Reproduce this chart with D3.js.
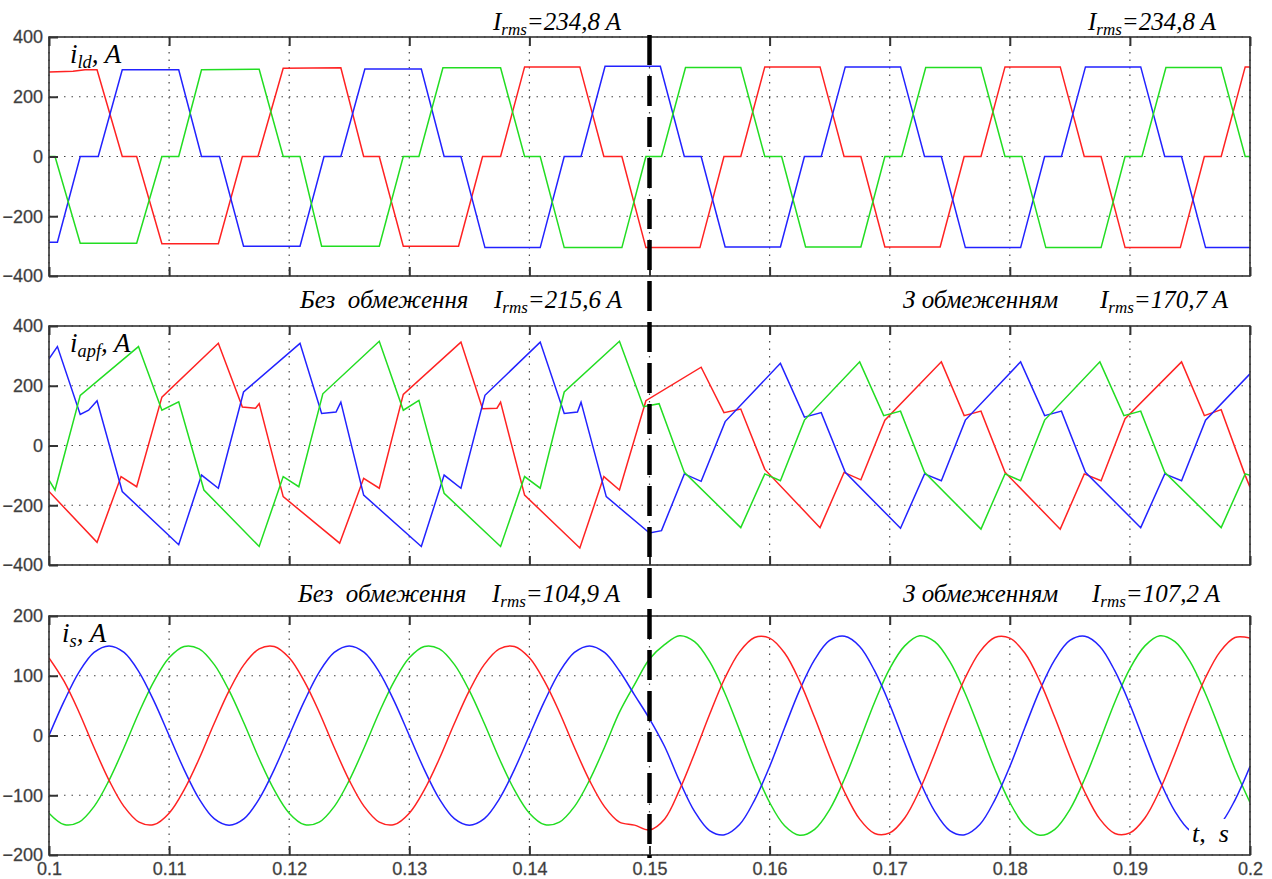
<!DOCTYPE html>
<html lang="en">
<head>
<meta charset="utf-8">
<title>i_ld, i_apf, i_s</title>
<script src="https://cdnjs.cloudflare.com/ajax/libs/d3/7.8.5/d3.min.js"></script>
<style>
  body { margin:0; background:#fff; }
  .tick text { font-family: Arial, "Liberation Sans", sans-serif; font-size:18px; fill:#3a3a3a; stroke:#555; stroke-width:0.3px; }
  .note { font-family: "Times New Roman", "Liberation Serif", serif; font-style:italic; fill:#000; }
</style>
</head>
<body>
<div id="chart"></div>
<script>
// time is in ms (100 = 0.1 s)
var xTicks = [100, 110, 120, 130, 140, 150, 160, 170, 180, 190, 200];
var xTickLabels = ["0.1", "0.11", "0.12", "0.13", "0.14", "0.15", "0.16", "0.17", "0.18", "0.19", "0.2"];
var ildTicks = [-400, -200, 0, 200, 400];
var apfTicks = [-400, -200, 0, 200, 400];
var isTicks = [-200, -100, 0, 100, 200];

// load current, breakpoints [ms, A]
var ildRed = [[100,283],[102,285],[103,290],[104.0,290],[106.1,0],[107.3,0],[109.4,-292],[114.1,-292],[116.1,0],[117.4,0],[119.5,295],[124.3,297],[126.2,0],[127.5,0],[129.5,-300],[134.1,-300],[136.1,0],[137.6,0],[139.6,300],[144.2,300],[146.2,0],[147.7,0],[149.7,-305],[154.2,-305],[156.2,0],[157.6,0],[159.6,300],[164.2,300],[166.2,0],[167.6,0],[169.6,-303],[174.2,-303],[176.2,0],[177.6,0],[179.6,300],[184.2,300],[186.2,0],[187.6,0],[189.6,-305],[194.2,-305],[196.2,0],[197.6,0],[199.6,300],[200,300]];
var ildGreen = [[100,0],[100.5,0],[102.6,-290],[107.3,-290],[109.4,0],[110.8,0],[112.7,290],[117.5,292],[119.5,0],[120.9,0],[122.7,-300],[127.5,-300],[129.5,0],[130.8,0],[132.8,297],[137.6,297],[139.6,0],[140.9,0],[142.9,-305],[147.7,-305],[149.7,0],[151,0],[153,298],[157.6,298],[159.6,0],[161,0],[163,-303],[167.6,-303],[169.6,0],[171,0],[173,298],[177.6,298],[179.6,0],[181,0],[183,-305],[187.6,-305],[189.6,0],[191,0],[193,298],[197.6,298],[199.6,0],[200,0]];
var ildBlue = [[100,-287],[100.7,-287],[102.6,0],[104.1,0],[106.1,290],[110.8,290],[112.7,0],[114.2,0],[116.2,-300],[120.9,-300],[122.9,0],[124.3,0],[126.3,293],[131.0,293],[132.9,0],[134.3,0],[136.3,-305],[140.9,-305],[142.9,0],[144.3,0],[146.3,302],[150.9,302],[152.9,0],[154.3,0],[156.3,-303],[160.9,-303],[162.9,0],[164.3,0],[166.3,300],[170.9,300],[172.9,0],[174.3,0],[176.3,-305],[180.9,-305],[182.9,0],[184.3,0],[186.3,300],[190.9,300],[192.9,0],[194.3,0],[196.3,-305],[200,-305]];

// active filter current, breakpoints [ms, A]
var apfRed = [[100,-154],[104.0,-324],[106.0,-104],[107.3,-138],[109.4,162],[114.1,342],[116.1,129],[117.2,125],[117.5,140],[119.5,-171],[124.2,-327],[126.2,-110],[127.5,-143],[129.5,171],[134.3,346],[136.1,123],[137.3,125],[137.6,145],[139.6,-166],[144.2,-343],[146.2,-104],[147.5,-149],[149.7,150],[154.3,262],[156.2,110],[157.6,122],[159.6,-80],[164.2,-275],[166.2,-90],[167.6,-115],[169.6,85],[174.3,280],[176.2,100],[177.6,115],[179.6,-90],[184.2,-280],[186.2,-95],[187.6,-118],[189.6,90],[194.3,280],[196.2,100],[197.6,120],[199.6,-100],[200,-140]];
var apfGreen = [[100,-116],[100.5,-149],[102.6,168],[107.45,331],[109.4,118],[110.8,146],[112.9,-149],[117.5,-338],[119.5,-104],[120.8,-138],[122.8,173],[127.5,349],[129.5,118],[130.8,151],[132.9,-160],[137.6,-338],[139.6,-104],[140.9,-143],[142.9,179],[147.5,349],[149.5,130],[150.8,140],[152.9,-90],[157.6,-275],[159.6,-95],[160.9,-118],[162.9,85],[167.5,280],[169.5,100],[170.9,115],[172.9,-90],[177.6,-280],[179.6,-95],[180.9,-118],[182.9,85],[187.5,280],[189.5,100],[190.9,115],[192.9,-90],[197.6,-275],[199.6,-95],[200,-100]];
var apfBlue = [[100,290],[100.7,331],[102.6,104],[103.3,118],[104.0,150],[106.1,-154],[110.8,-332],[112.7,-99],[114.1,-143],[116.2,179],[120.9,342],[122.7,107],[123.9,112],[124.3,145],[126.2,-166],[131.0,-338],[132.9,-99],[134.3,-143],[136.3,168],[140.9,346],[142.9,107],[144.0,112],[144.3,145],[146.4,-171],[150.0,-293],[151.0,-285],[152.9,-95],[154.3,-120],[156.3,80],[160.9,275],[162.9,95],[164.3,110],[166.3,-90],[170.9,-277],[172.9,-95],[174.3,-118],[176.3,85],[180.9,280],[182.9,100],[184.3,115],[186.3,-90],[190.9,-275],[192.9,-95],[194.3,-118],[196.3,85],[200,240]];

// source current, read every 1.25 ms from 100 to 200 ms
var isTime = d3.range(100, 200.001, 1.25);
var isRed = [130,91,39,-20,-75,-119,-145,-149,-130,-91,-39,20,75,119,145,149,
  130,91,39,-20,-75,-119,-145,-149,-130,-91,-39,20,75,119,145,149,
  130,91,39,-20,-75,-119,-145,-150,
  -158,-140,-91,-30,35,95,140,164,163,138,91,30,-35,-95,-140,-164,
  -163,-138,-91,-30,35,95,140,164,163,138,91,30,-35,-95,-140,-164,
  -163,-138,-91,-30,35,95,140,164,163];
var isGreen = [-130,-149,-145,-119,-75,-20,39,91,130,149,145,119,75,20,-39,-91,
  -130,-149,-145,-119,-75,-20,39,91,130,149,145,119,75,20,-39,-91,
  -130,-149,-145,-119,-75,-20,39,85,
  128,152,167,157,124,72,9,-56,-112,-151,-167,-157,-124,-72,-9,56,
  112,150,167,157,124,72,9,-56,-112,-151,-167,-157,-124,-72,-9,56,
  112,150,167,157,124,72,9,-56,-112];
var isBlue = [0,57,106,139,150,139,106,57,0,-57,-106,-139,-150,-139,-106,-57,
  0,57,106,139,150,139,106,57,0,-57,-106,-139,-150,-139,-106,-57,
  0,57,106,139,150,139,108,68,
  28,-18,-76,-127,-159,-166,-149,-108,-52,13,76,127,159,166,149,108,
  52,-13,-76,-127,-159,-166,-149,-108,-52,13,76,127,159,166,149,108,
  52,-13,-76,-127,-159,-166,-149,-108,-52];

var colors = {red: "#ff2222", green: "#22dd22", blue: "#2222ff"};

var width = 1272, height = 879;
var left = 49, right = 1250, panelH = 239;

var svg = d3.select("#chart").append("svg")
    .attr("width", width)
    .attr("height", height);

var x = d3.scaleLinear().domain([100, 200]).range([left, right]);

function pairs(times, values) {
  return times.map(function(t, i) { return [t, values[i]]; });
}

function drawPanel(top, ticks, series, curve, showX, id) {
  var y = d3.scaleLinear().domain([ticks[0], ticks[ticks.length - 1]]).range([top + panelH, top]);
  var g = svg.append("g");

  g.append("clipPath").attr("id", id)
    .append("rect").attr("x", left).attr("y", top).attr("width", right - left).attr("height", panelH);

  // dotted grid
  g.selectAll(".gx").data(xTicks).join("line")
    .attr("x1", function(d) { return x(d); }).attr("x2", function(d) { return x(d); })
    .attr("y1", top).attr("y2", top + panelH)
    .attr("stroke", "#444").attr("stroke-width", 1.2).attr("stroke-dasharray", "1.5,6");
  g.selectAll(".gy").data(ticks).join("line")
    .attr("x1", left).attr("x2", right)
    .attr("y1", function(d) { return y(d); }).attr("y2", function(d) { return y(d); })
    .attr("stroke", "#444").attr("stroke-width", 1.2).attr("stroke-dasharray", "1.5,6");

  var line = d3.line().curve(curve)
    .x(function(d) { return x(d[0]); })
    .y(function(d) { return y(d[1]); });

  g.append("g").attr("clip-path", "url(#" + id + ")")
    .selectAll("path").data(series).join("path")
    .attr("d", function(s) { return line(s.data); })
    .attr("fill", "none")
    .attr("stroke", function(s) { return colors[s.color]; })
    .attr("stroke-width", 1.5);

  // axes, ticks pointing inwards
  var ay = g.append("g").attr("transform", "translate(" + left + ",0)")
    .call(d3.axisLeft(y).tickValues(ticks).tickSizeInner(-9).tickSizeOuter(0).tickPadding(6));
  var at = g.append("g").attr("transform", "translate(0," + top + ")")
    .call(d3.axisTop(x).tickValues(xTicks).tickSizeInner(-9).tickSizeOuter(0).tickFormat(""));
  var ab = g.append("g").attr("transform", "translate(0," + (top + panelH) + ")")
    .call(d3.axisBottom(x).tickValues(xTicks).tickSizeInner(-9).tickSizeOuter(0).tickPadding(7)
      .tickFormat(function(d, i) { return showX ? xTickLabels[i] : ""; }));
  [ay, at, ab].forEach(function(a) {
    a.select(".domain").remove();
    a.selectAll(".tick line").attr("stroke", "#333").attr("stroke-width", 2);
    a.selectAll(".tick text").attr("fill", "#3a3a3a");
  });
  ab.selectAll(".tick text").attr("dy", "0.72em");

  g.append("rect")
    .attr("x", left).attr("y", top).attr("width", right - left).attr("height", panelH)
    .attr("fill", "none").attr("stroke", "#333").attr("stroke-width", 1.6);
  return g;
}

drawPanel(37, ildTicks, [
  {color: "red", data: ildRed}, {color: "blue", data: ildBlue}, {color: "green", data: ildGreen}
], d3.curveLinear, false, "c1");

drawPanel(326, apfTicks, [
  {color: "red", data: apfRed}, {color: "blue", data: apfBlue}, {color: "green", data: apfGreen}
], d3.curveLinear, false, "c2");

drawPanel(616, isTicks, [
  {color: "green", data: pairs(isTime, isGreen)}, {color: "blue", data: pairs(isTime, isBlue)}, {color: "red", data: pairs(isTime, isRed)}
], d3.curveCatmullRom, true, "c3");

// texts with subscripts
function subText(px, py, size, parts) {
  var t = svg.append("text").attr("class", "note").attr("x", px).attr("y", py).attr("font-size", size);
  parts.forEach(function(p) {
    t.append("tspan").text(p[0])
      .attr("font-size", p[1] ? size * 0.68 : size)
      .attr("dy", p[2] || 0);
  });
  return t;
}

subText(70, 63, 27, [["i"], ["ld", true, 5], [", A", false, -5]]);
subText(70, 352, 27, [["i"], ["apf", true, 5], [", A", false, -5]]);
subText(62, 642, 27, [["i"], ["s", true, 5], [", A", false, -5]]);

var rms = function(val) { return [["I"], ["rms", true, 5], ["=" + val + " A", false, -5]]; };
subText(493, 30, 25, rms("234,8"));
subText(1088, 30, 25, rms("234,8"));

svg.append("text").attr("class", "note").attr("x", 300).attr("y", 308).attr("font-size", 25)
  .attr("xml:space", "preserve").text("Без  обмеження");
subText(494, 308, 25, rms("215,6"));
svg.append("text").attr("class", "note").attr("x", 903).attr("y", 308).attr("font-size", 25)
  .text("З обмеженням");
subText(1100, 308, 25, rms("170,7"));

svg.append("text").attr("class", "note").attr("x", 298).attr("y", 602).attr("font-size", 25)
  .attr("xml:space", "preserve").text("Без  обмеження");
subText(492, 602, 25, rms("104,9"));
svg.append("text").attr("class", "note").attr("x", 903).attr("y", 602).attr("font-size", 25)
  .text("З обмеженням");
subText(1092, 602, 25, rms("107,2"));

// t, s label on a white patch
svg.append("rect").attr("x", 1189).attr("y", 819).attr("width", 58).attr("height", 32).attr("fill", "#fff");
svg.append("text").attr("class", "note").attr("x", 1192).attr("y", 842).attr("font-size", 26)
  .attr("xml:space", "preserve").text("t,  s");

// limiter switched on at 0.15 s
svg.append("line")
  .attr("x1", x(150)).attr("x2", x(150)).attr("y1", 35).attr("y2", 858)
  .attr("stroke", "#000").attr("stroke-width", 4.5).attr("stroke-dasharray", "30,11");
</script>
</body>
</html>
